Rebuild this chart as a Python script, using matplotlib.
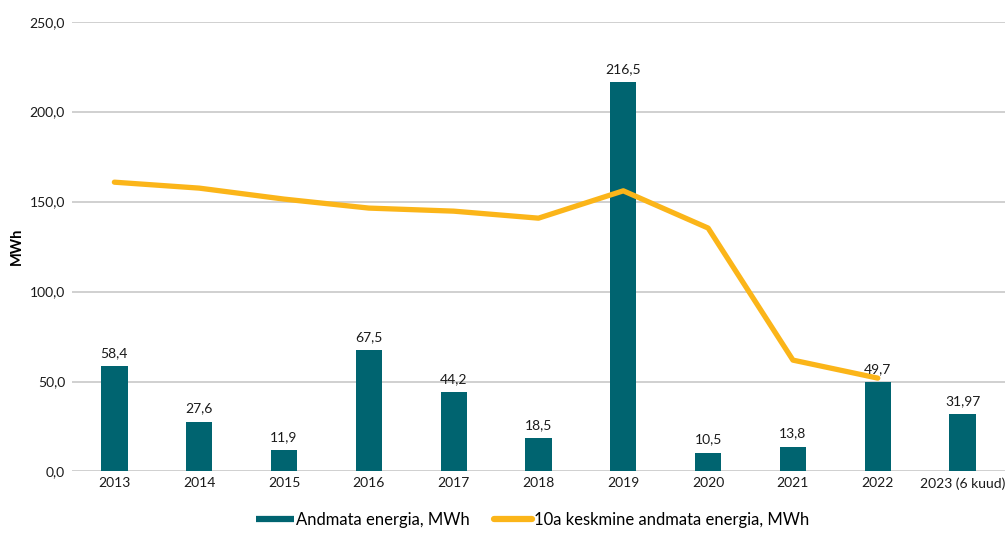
import matplotlib
matplotlib.use("Agg")
import matplotlib.pyplot as plt
from matplotlib.ticker import FuncFormatter
from matplotlib.lines import Line2D

categories = ["2013", "2014", "2015", "2016", "2017", "2018", "2019", "2020", "2021", "2022", "2023 (6 kuud)"]
bar_values = [58.4, 27.6, 11.9, 67.5, 44.2, 18.5, 216.5, 10.5, 13.8, 49.7, 31.97]
bar_labels = ["58,4", "27,6", "11,9", "67,5", "44,2", "18,5", "216,5", "10,5", "13,8", "49,7", "31,97"]
line_values = [160.8, 157.5, 151.4, 146.4, 144.7, 140.8, 156.0, 135.3, 61.9, 51.9]
bar_name = "Andmata energia, MWh"
line_name = "10a keskmine andmata energia, MWh"

teal = "#006470"
orange = "#FBB519"

plt.rcParams['font.family'] = ['Lato', 'DejaVu Sans']

fig = plt.figure(figsize=(10.05, 5.33), dpi=100)
ax = fig.add_axes([0.0716, 0.1154, 0.9284, 0.8439])

x = list(range(len(categories)))
ax.bar(x, bar_values, width=0.31, color=teal, zorder=2)
for xi, v, lab in zip(x, bar_values, bar_labels):
    ax.text(xi, v + 4, lab, ha='center', va='bottom', fontsize=10, color='#1a1a1a', zorder=4)
ax.plot(x[:len(line_values)], line_values, color=orange, linewidth=3.8, solid_capstyle='round', zorder=3)

ax.set_xlim(-0.5, len(categories) - 0.5)
ax.set_ylim(0, 250)
ax.set_yticks([0, 50, 100, 150, 200, 250])
ax.yaxis.set_major_formatter(FuncFormatter(lambda v, p: f"{v:.1f}".replace('.', ',')))
ax.set_xticks(x)
ax.set_xticklabels(categories)
ax.grid(axis='y', color='#c8c8c8', linewidth=1.2, zorder=0)
ax.set_axisbelow(True)
for s in ax.spines.values():
    s.set_visible(False)
ax.tick_params(axis='both', length=0, labelsize=10, colors='#1a1a1a')
ax.tick_params(axis='x', pad=4)
ax.tick_params(axis='y', pad=5)
ax.set_ylabel("MWh", fontweight='bold', fontsize=10.5)
ax.yaxis.set_label_coords(-0.052, 0.5)

handles = [Line2D([0], [0], color=teal, linewidth=4.5, solid_capstyle='butt'),
           Line2D([0], [0], color=orange, linewidth=4.5, solid_capstyle='round')]
fig.legend(handles, [bar_name, line_name], loc='center', bbox_to_anchor=(0.53, 0.025), ncol=2,
           frameon=False, fontsize=12, handlelength=2.3, handletextpad=0.15, columnspacing=1.4)

fig.savefig("out.png", dpi=100)
